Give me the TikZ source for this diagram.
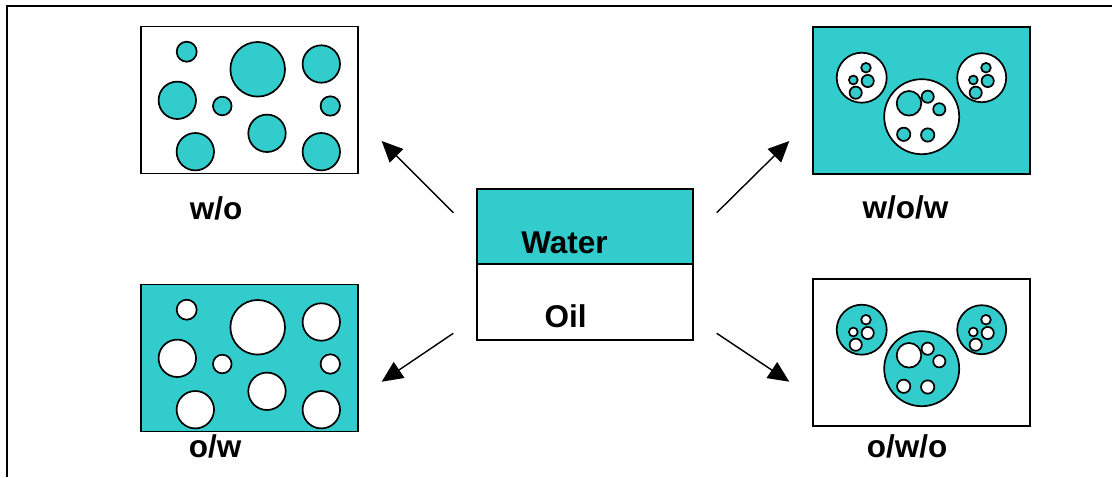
\documentclass[tikz,border=0pt]{standalone}
\usepackage{fontspec}
\setmainfont{Liberation Sans}
\usetikzlibrary{arrows.meta}

\definecolor{aqua}{RGB}{51,204,204}

\tikzset{
  panel/.style={draw, line width=1.8pt, rectangle, inner sep=0pt,
                minimum width=217pt, minimum height=147pt},
  drop/.style={draw, line width=1.7pt, circle, inner sep=0pt},
  lbl/.style={font=\fontsize{31.5}{37}\selectfont\bfseries, anchor=base, inner sep=0pt},
  flow/.style={line width=1.4pt, -{Triangle[length=21pt,width=19pt]}},
}

% single emulsion: nine droplets, #1 = name prefix, #2 = droplet fill
\newcommand\singledrops[2]{%
  \foreach \cx/\cy/\d [count=\i] in {186.7/51.7/20, 257.7/69.3/54.6, 321.3/64/37.4,
      177.3/100.3/37.4, 222.3/106/18.6, 330.3/106/19.4, 267/133.3/37.4,
      195.3/151.7/37.4, 321.3/151.7/37.4}
    \node[drop, fill=#2, minimum size=\d] (#1\i) at (\cx,\cy) {};
}

% double emulsion: three globules (#2) holding inner droplets (#3)
\newcommand\doubledrops[3]{%
  \foreach \cx/\cy/\d [count=\i] in {861.7/77.7/50, 921.7/116.7/75, 981.7/77.7/49}
    \node[drop, fill=#2, minimum size=\d] (#1g\i) at (\cx,\cy) {};
  \foreach \cx/\cy/\d [count=\i] in {866/67.7/9.6, 853.3/80/8.8, 867.7/81/12.2, 855.7/92.7/12.2,
      986/67.7/9.6, 973.3/80/8.8, 987.7/81/12.2, 975.7/92.7/12.2,
      909/103.3/24.6, 927.7/96.7/12.2, 939.3/109.3/12.2, 903.7/134.3/13.3, 927.7/135/13.3}
    \node[drop, fill=#3, minimum size=\d] (#1d\i) at (\cx,\cy) {};
}

\begin{document}
\begin{tikzpicture}[x=1pt, y=-1pt]
  \useasboundingbox (0,0) rectangle (1112,477);

  % outer frame
  \draw[line width=2pt] (7,477) -- (7,6) -- (1112,6);

  % water over oil
  \node[draw, line width=1.8pt, fill=aqua, minimum width=216pt, minimum height=75pt,
        inner sep=0pt] (water) at (585,226.5) {};
  \node[draw, line width=1.8pt, fill=white, minimum width=216pt, minimum height=76pt,
        inner sep=0pt] (oil) at (585,302) {};
  \node[lbl] (waterlbl) at (564.5,253) {Water};
  \node[lbl] (oillbl) at (565.5,327) {Oil};

  % w/o
  \node[panel, fill=white] (wo) at (249.5,100) {};
  \singledrops{wo}{aqua}
  \node[lbl] (wolbl) at (216,219) {w/o};

  % o/w
  \node[panel, fill=aqua] (ow) at (249.5,358) {};
  \begin{scope}[shift={(0,258)}]
    \singledrops{ow}{white}
  \end{scope}
  \node[lbl] (owlbl) at (215,457) {o/w};

  % w/o/w
  \node[panel, fill=aqua] (wow) at (921.5,100.5) {};
  \doubledrops{wow}{white}{aqua}
  \node[lbl] (wowlbl) at (905.5,218) {w/o/w};

  % o/w/o
  \node[panel, fill=white] (owo) at (921.5,352.5) {};
  \begin{scope}[shift={(0,252)}]
    \doubledrops{owo}{aqua}{white}
  \end{scope}
  \node[lbl] (owolbl) at (907,457) {o/w/o};

  % arrows out of the two-phase box
  \coordinate (a1s) at (453.3,212.7);  \coordinate (a1e) at (381.7,141);
  \coordinate (a2s) at (716.7,212.7);  \coordinate (a2e) at (789.3,141);
  \coordinate (a3s) at (453.3,333.3);  \coordinate (a3e) at (381.7,381.7);
  \coordinate (a4s) at (716.7,333.3);  \coordinate (a4e) at (789.3,381.7);
  \draw[flow] (a1s) -- (a1e);
  \draw[flow] (a2s) -- (a2e);
  \draw[flow] (a3s) -- (a3e);
  \draw[flow] (a4s) -- (a4e);
\end{tikzpicture}
\end{document}
